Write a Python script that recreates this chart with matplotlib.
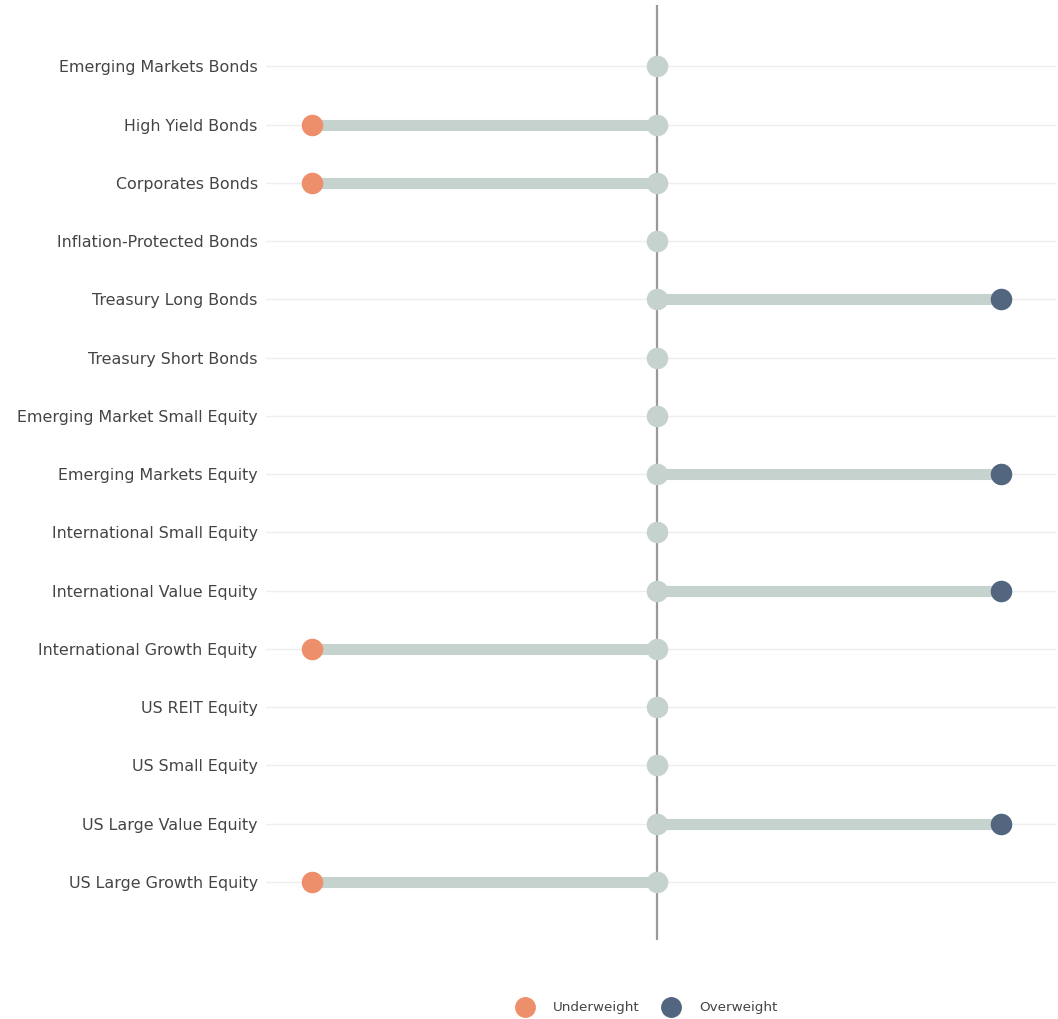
import numpy as np
import matplotlib
matplotlib.use('Agg')
import matplotlib.pyplot as plt
from matplotlib.lines import Line2D

plt.rcParams['font.family'] = ['DejaVu Sans']

# asset classes, top to bottom
categories = ['Emerging Markets Bonds', 'High Yield Bonds', 'Corporates Bonds',
              'Inflation-Protected Bonds', 'Treasury Long Bonds', 'Treasury Short Bonds',
              'Emerging Market Small Equity', 'Emerging Markets Equity',
              'International Small Equity', 'International Value Equity',
              'International Growth Equity', 'US REIT Equity', 'US Small Equity',
              'US Large Value Equity', 'US Large Growth Equity']
# -1 underweight, 0 neutral, +1 overweight
tilt = [0, -1, -1, 0, 1, 0, 0, 1, 0, 1, -1, 0, 0, 1, -1]

col_under = '#EE8F6C'
col_over = '#526680'
col_neutral = '#C6D2CD'

ypos = np.arange(len(categories))
tilt = np.asarray(tilt)

fig = plt.figure(figsize=(10.58, 10.19), dpi=100)
ax = fig.add_axes([0.2514, 0.0775, 0.7466, 0.9175])

for y in ypos:
    ax.axhline(y, color='#EEEEEE', lw=1, zorder=0)
ax.axvline(0, color='#999999', lw=1.6, zorder=1)

ax.hlines(ypos, 0, tilt, color=col_neutral, lw=8, zorder=2)
ax.plot(np.zeros(len(ypos)), ypos, 'o', color=col_neutral, ms=14.5, zorder=3)
under = tilt < 0
over = tilt > 0
ax.plot(tilt[under], ypos[under], 'o', color=col_under, ms=14.5, zorder=4)
ax.plot(tilt[over], ypos[over], 'o', color=col_over, ms=14.5, zorder=4)

ax.set_xlim(-1.135, 1.158)
ax.set_ylim(len(categories), -1.05)
ax.set_yticks(ypos)
ax.set_yticklabels(categories, fontsize=11.4, color='#444444')
ax.set_xticks([])
ax.tick_params(axis='y', length=0, pad=6)
for s in ax.spines.values():
    s.set_visible(False)

custom = [Line2D([0], [0], marker='o', color='none', markerfacecolor=col_under,
                 markeredgecolor=col_under, ms=14),
          Line2D([0], [0], marker='o', color='none', markerfacecolor=col_over,
                 markeredgecolor=col_over, ms=14)]
fig.legend(custom, ['Underweight', 'Overweight'], loc='center',
           bbox_to_anchor=(0.609, 0.011), ncol=2, frameon=False,
           fontsize=9.7, labelcolor='#444444', handletextpad=1.1, columnspacing=1.3)

fig.savefig('out.png', dpi=100)
